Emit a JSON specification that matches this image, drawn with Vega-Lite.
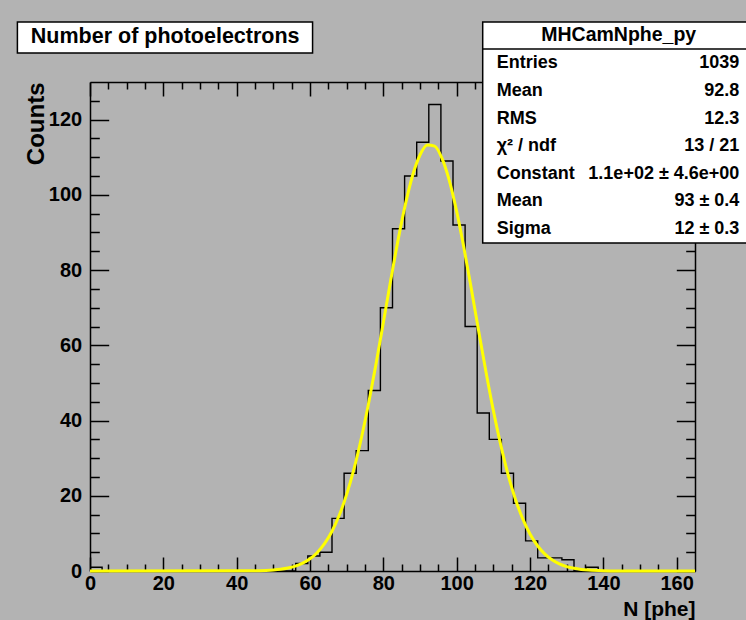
{
  "$schema": "https://vega.github.io/schema/vega-lite/v6.json",
  "width": 605,
  "height": 489,
  "autosize": {"type": "none"},
  "padding": {"left": 90, "top": 82, "right": 51, "bottom": 49},
  "background": "#b3b3b3",
  "config": {
    "view": {"stroke": null},
    "axis": {
      "domainColor": "black", "domainWidth": 1.5,
      "tickColor": "black", "tickWidth": 1.5,
      "labelColor": "black", "titleColor": "black", "grid": false,
      "labelFont": "Liberation Sans, Arial, sans-serif",
      "titleFont": "Liberation Sans, Arial, sans-serif",
      "labelFontWeight": "bold", "labelFontSize": 20,
      "titleFontWeight": "bold"
    },
    "text": {"font": "Liberation Sans, Arial, sans-serif", "fontWeight": "bold", "color": "black"}
  },
  "datasets": {
    "hist": [
      {"low": 0, "count": 1}, {"low": 3.3, "count": 0}, {"low": 6.6, "count": 0}, {"low": 9.9, "count": 0},
      {"low": 13.2, "count": 0}, {"low": 16.5, "count": 0}, {"low": 19.8, "count": 0}, {"low": 23.1, "count": 0},
      {"low": 26.4, "count": 0}, {"low": 29.7, "count": 0}, {"low": 33, "count": 0}, {"low": 36.3, "count": 0},
      {"low": 39.6, "count": 0}, {"low": 42.9, "count": 0}, {"low": 46.2, "count": 0}, {"low": 49.5, "count": 0},
      {"low": 52.8, "count": 0}, {"low": 56.1, "count": 2}, {"low": 59.4, "count": 4}, {"low": 62.7, "count": 5},
      {"low": 66, "count": 14}, {"low": 69.3, "count": 26}, {"low": 72.6, "count": 32}, {"low": 75.9, "count": 48},
      {"low": 79.2, "count": 70}, {"low": 82.5, "count": 91}, {"low": 85.8, "count": 105}, {"low": 89.1, "count": 114},
      {"low": 92.4, "count": 124}, {"low": 95.7, "count": 109}, {"low": 99, "count": 92}, {"low": 102.3, "count": 65},
      {"low": 105.6, "count": 42}, {"low": 108.9, "count": 35}, {"low": 112.2, "count": 26}, {"low": 115.5, "count": 18},
      {"low": 118.8, "count": 8}, {"low": 122.1, "count": 3.5}, {"low": 125.4, "count": 3.5}, {"low": 128.7, "count": 3},
      {"low": 132, "count": 0}, {"low": 135.3, "count": 1}, {"low": 138.6, "count": 0}, {"low": 141.9, "count": 0},
      {"low": 145.2, "count": 0}, {"low": 148.5, "count": 0}, {"low": 151.8, "count": 0}, {"low": 155.1, "count": 0},
      {"low": 158.4, "count": 0}, {"low": 161.7, "count": 0}, {"low": 165, "count": 0}
    ],
    "fit": [
      {"n": 0, "f": 0}, {"n": 44, "f": 0.04}, {"n": 48, "f": 0.15}, {"n": 50, "f": 0.27}, {"n": 52, "f": 0.46},
      {"n": 54, "f": 0.78}, {"n": 56, "f": 1.29}, {"n": 58, "f": 2.07}, {"n": 60, "f": 3.24}, {"n": 62, "f": 4.94},
      {"n": 64, "f": 7.32}, {"n": 66, "f": 10.57}, {"n": 68, "f": 14.87}, {"n": 70, "f": 20.37}, {"n": 72, "f": 27.16},
      {"n": 74, "f": 35.3}, {"n": 76, "f": 44.65}, {"n": 78, "f": 55.0}, {"n": 80, "f": 66.05}, {"n": 82, "f": 77.2},
      {"n": 84, "f": 87.9}, {"n": 86, "f": 97.4}, {"n": 88, "f": 105.2}, {"n": 90, "f": 110.6}, {"n": 92, "f": 113.26},
      {"n": 94, "f": 112.96}, {"n": 96, "f": 109.7}, {"n": 98, "f": 103.8}, {"n": 100, "f": 95.6}, {"n": 102, "f": 85.8},
      {"n": 104, "f": 75.0}, {"n": 106, "f": 63.8}, {"n": 108, "f": 52.9}, {"n": 110, "f": 42.7}, {"n": 112, "f": 33.6},
      {"n": 114, "f": 25.7}, {"n": 116, "f": 19.16}, {"n": 118, "f": 13.92}, {"n": 120, "f": 9.84}, {"n": 122, "f": 6.78},
      {"n": 124, "f": 4.55}, {"n": 126, "f": 2.97}, {"n": 128, "f": 1.89}, {"n": 130, "f": 1.17}, {"n": 132, "f": 0.71},
      {"n": 134, "f": 0.42}, {"n": 136, "f": 0.24}, {"n": 140, "f": 0.07}, {"n": 144, "f": 0.02}, {"n": 165, "f": 0}
    ],
    "title": [{"text": "Number of photoelectrons"}],
    "statshead": [{"name": "MHCamNphe_py"}],
    "stats": [
      {"k": 0, "label": "Entries", "value": "1039"},
      {"k": 1, "label": "Mean", "value": "92.8"},
      {"k": 2, "label": "RMS", "value": "12.3"},
      {"k": 3, "label": "χ² / ndf", "value": "13 / 21"},
      {"k": 4, "label": "Constant", "value": "1.1e+02 ± 4.6e+00"},
      {"k": 5, "label": "Mean", "value": "93 ± 0.4"},
      {"k": 6, "label": "Sigma", "value": "12 ± 0.3"}
    ]
  },
  "layer": [
    {
      "layer": [
        {
          "data": {"name": "hist"},
          "mark": {"type": "line", "interpolate": "step-after", "color": "black", "strokeWidth": 1.4},
          "encoding": {
            "x": {
              "field": "low", "type": "quantitative",
              "scale": {"domain": [0, 165], "nice": false, "zero": false},
              "axis": {
                "orient": "bottom",
                "values": [0,5,10,15,20,25,30,35,40,45,50,55,60,65,70,75,80,85,90,95,100,105,110,115,120,125,130,135,140,145,150,155,160],
                "labelExpr": "datum.value % 20 === 0 ? datum.label : ''",
                "tickSize": {"condition": {"test": "datum.value % 20 === 0", "value": -14}, "value": -7},
                "labelPadding": 16, "labelFlush": false, "labelOverlap": false,
                "title": "N [phe]", "titleAnchor": "end", "titleFontSize": 21,
                "titlePadding": -2
              }
            },
            "y": {
              "field": "count", "type": "quantitative",
              "scale": {"domain": [0, 130], "nice": false},
              "axis": {
                "orient": "left",
                "values": [0,5,10,15,20,25,30,35,40,45,50,55,60,65,70,75,80,85,90,95,100,105,110,115,120,125],
                "labelExpr": "datum.value % 20 === 0 ? datum.label : ''",
                "tickSize": {"condition": {"test": "datum.value % 20 === 0", "value": -18.7}, "value": -9.3},
                "labelPadding": 27, "labelFlush": false, "labelOverlap": false,
                "title": "Counts", "titleAnchor": "end", "titleFontSize": 24,
                "titlePadding": 0
              }
            }
          }
        },
        {
          "data": {"name": "fit"},
          "mark": {"type": "line", "interpolate": "monotone", "color": "#ffff00", "strokeWidth": 3},
          "encoding": {
            "x": {
              "field": "n", "type": "quantitative",
              "scale": {"domain": [0, 165], "nice": false, "zero": false},
              "axis": {
                "orient": "top", "labels": false, "title": null,
                "values": [0,5,10,15,20,25,30,35,40,45,50,55,60,65,70,75,80,85,90,95,100,105,110,115,120,125,130,135,140,145,150,155,160],
                "tickSize": {"condition": {"test": "datum.value % 20 === 0", "value": -14}, "value": -7}
              }
            },
            "y": {
              "field": "f", "type": "quantitative",
              "scale": {"domain": [0, 130], "nice": false},
              "axis": {
                "orient": "right", "labels": false, "title": null,
                "values": [0,5,10,15,20,25,30,35,40,45,50,55,60,65,70,75,80,85,90,95,100,105,110,115,120,125],
                "tickSize": {"condition": {"test": "datum.value % 20 === 0", "value": -18.7}, "value": -9.3}
              }
            }
          }
        }
      ],
      "resolve": {"axis": {"x": "independent", "y": "independent"}}
    },
    {
      "layer": [
        {
          "data": {"name": "title"},
          "mark": {"type": "rect", "fill": "white", "stroke": "black", "strokeWidth": 1.5},
          "encoding": {
            "x": {"datum": -19.8, "type": "quantitative", "scale": {"domain": [0, 165], "nice": false, "zero": false}, "axis": null},
            "x2": {"datum": 60.7},
            "y": {"datum": -1.496, "type": "quantitative", "scale": {"domain": [0.6775, 18.395], "reverse": true, "nice": false, "zero": false}, "axis": null},
            "y2": {"datum": -0.373}
          }
        },
        {
          "data": {"name": "title"},
          "mark": {"type": "text", "align": "center", "baseline": "middle", "fontSize": 21.5},
          "encoding": {
            "x": {"datum": 20.5, "type": "quantitative", "scale": {"domain": [0, 165], "nice": false, "zero": false}, "axis": null},
            "y": {"datum": -0.935, "type": "quantitative", "scale": {"domain": [0.6775, 18.395], "reverse": true, "nice": false, "zero": false}, "axis": null},
            "text": {"field": "text"}
          }
        },
        {
          "data": {"name": "statshead"},
          "mark": {"type": "rect", "fill": "white", "stroke": "black", "strokeWidth": 1.5},
          "encoding": {
            "x": {"datum": 107.1, "type": "quantitative", "scale": {"domain": [0, 165], "nice": false, "zero": false}, "axis": null},
            "x2": {"datum": 181.4},
            "y": {"datum": -1.496, "type": "quantitative", "scale": {"domain": [0.6775, 18.395], "reverse": true, "nice": false, "zero": false}, "axis": null},
            "y2": {"datum": 6.51}
          }
        },
        {
          "data": {"name": "statshead"},
          "mark": {"type": "rule", "color": "black", "strokeWidth": 1.5},
          "encoding": {
            "x": {"datum": 107.1, "type": "quantitative", "scale": {"domain": [0, 165], "nice": false, "zero": false}, "axis": null},
            "x2": {"datum": 181.4},
            "y": {"datum": -0.518, "type": "quantitative", "scale": {"domain": [0.6775, 18.395], "reverse": true, "nice": false, "zero": false}, "axis": null}
          }
        },
        {
          "data": {"name": "statshead"},
          "mark": {"type": "text", "align": "center", "baseline": "middle", "fontSize": 19.5},
          "encoding": {
            "x": {"datum": 144.2, "type": "quantitative", "scale": {"domain": [0, 165], "nice": false, "zero": false}, "axis": null},
            "y": {"datum": -1.025, "type": "quantitative", "scale": {"domain": [0.6775, 18.395], "reverse": true, "nice": false, "zero": false}, "axis": null},
            "text": {"field": "name"}
          }
        },
        {
          "data": {"name": "stats"},
          "mark": {"type": "text", "align": "left", "baseline": "middle", "fontSize": 18},
          "encoding": {
            "x": {"datum": 110.9, "type": "quantitative", "scale": {"domain": [0, 165], "nice": false, "zero": false}, "axis": null},
            "y": {"field": "k", "type": "quantitative", "scale": {"domain": [0.6775, 18.395], "reverse": true, "nice": false, "zero": false}, "axis": null},
            "text": {"field": "label"}
          }
        },
        {
          "data": {"name": "stats"},
          "mark": {"type": "text", "align": "right", "baseline": "middle", "fontSize": 18},
          "encoding": {
            "x": {"datum": 177.1, "type": "quantitative", "scale": {"domain": [0, 165], "nice": false, "zero": false}, "axis": null},
            "y": {"field": "k", "type": "quantitative", "scale": {"domain": [0.6775, 18.395], "reverse": true, "nice": false, "zero": false}, "axis": null},
            "text": {"field": "value"}
          }
        }
      ]
    }
  ],
  "resolve": {"scale": {"y": "independent"}, "axis": {"x": "independent", "y": "independent"}}
}
